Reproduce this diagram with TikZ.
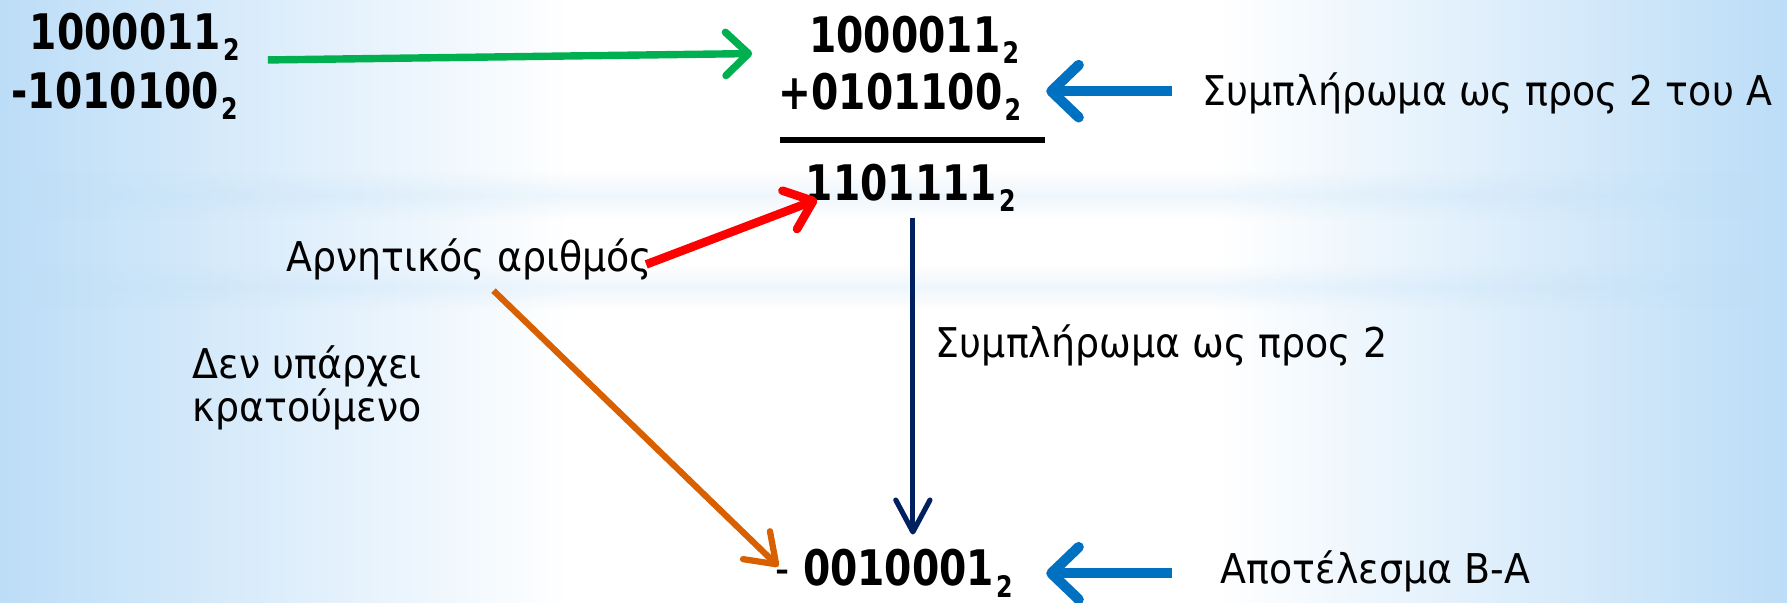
\documentclass[tikz,border=0pt]{standalone}
\usepackage{fontspec}
\setmainfont{DejaVu Sans}[FakeStretch=0.925]
\newfontfamily\numfont{DejaVu Sans}[FakeStretch=0.8]
\usetikzlibrary{arrows.meta,fadings}

\definecolor{edgeblue}{HTML}{BCDDF7}
\definecolor{bandblue}{HTML}{BFDFF7}
\definecolor{mygreen}{HTML}{00B050}
\definecolor{myblue}{HTML}{0070C0}
\definecolor{myred}{HTML}{FF0000}
\definecolor{myorange}{HTML}{D86000}
\definecolor{mynavy}{HTML}{002060}

% slide background: blue at both sides, white in the middle
\pgfdeclarehorizontalshading{slidebg}{100bp}{%
  color(0bp)=(edgeblue); color(25bp)=(edgeblue);
  color(41bp)=(white); color(59bp)=(white);
  color(75bp)=(edgeblue); color(100bp)=(edgeblue)}
\tikzfading[name=bandfade, top color=transparent!100,
  bottom color=transparent!100, middle color=transparent!75]

\newcommand\basetwo{\kern2pt\raisebox{-10pt}{\fontsize{26}{26}\selectfont 2}}

\tikzset{
  num/.style={inner sep=0pt, anchor=base west,
    font=\numfont\bfseries\fontsize{43}{46}\selectfont},
  lbl/.style={inner sep=0pt, anchor=base west,
    font=\fontsize{36}{39}\selectfont},
  greenarrow/.style={draw=mygreen, line width=6.5pt,
    -{Straight Barb[length=20pt, width=38pt, round]}},
  bluearrow/.style={draw=myblue, line width=9pt,
    -{Straight Barb[length=24pt, width=46pt, round]}},
  redarrow/.style={draw=myred, line width=7.5pt,
    -{Straight Barb[length=22pt, width=36pt, round]}},
  orangearrow/.style={draw=myorange, line width=5.5pt,
    -{Straight Barb[length=24pt, width=34pt, round]}},
  navyarrow/.style={draw=mynavy, line width=4.5pt,
    -{Straight Barb[length=28pt, width=30pt, round]}},
}

\begin{document}
\begin{tikzpicture}[x=1pt, y=-1pt]
\useasboundingbox (0,0) rectangle (1568,529);
\shade[shading=slidebg] (0,0) rectangle (1568,529);
\fill[bandblue, path fading=bandfade] (0,150) rectangle (1568,192);
\fill[bandblue, path fading=bandfade] (0,232) rectangle (1568,272);

% subtraction B - A
\node[num] (b1) at (26,43) {1000011\basetwo};
\node[num] (a1) at (10,95) {-1010100\basetwo};

% addition with the complement
\node[num] (b2) at (710,46) {1000011\basetwo};
\node[num] (a2) at (683,96) {+0101100\basetwo};
\draw[line width=5pt] (684,123) coordinate (barl) -- (917,123) coordinate (barr);
\node[num] (sum) at (707,176) {1101111\basetwo};
\node[num] (res) at (680,514) {{\mdseries -} 0010001\basetwo};

% labels
\node[lbl] (compA) at (1055,93) {Συμπλήρωμα ως προς 2 του Α};
\node[lbl] (comp) at (821,314) {Συμπλήρωμα ως προς 2};
\node[lbl] (neg) at (251,238) {Αρνητικός αριθμός};
\node[lbl] (carry1) at (169,332) {Δεν υπάρχει};
\node[lbl] (carry2) at (169,370) {κρατούμενο};
\node[lbl] (out) at (1071,512) {Αποτέλεσμα Β-Α};

% connectors
\coordinate (g0) at (235,52.6);
\coordinate (g1) at (660,47);
\draw[greenarrow] (g0) -- (g1);

\coordinate (c0) at (1028,80);
\coordinate (c1) at (918,80);
\draw[bluearrow] (c0) -- (c1);

\coordinate (r0) at (567,232);
\coordinate (r1) at (717,175);
\draw[redarrow] (r0) -- (r1);

\coordinate (o0) at (433,255);
\coordinate (o1) at (683,497);
\draw[orangearrow] (o0) -- (o1);

\coordinate (n0) at (801,191);
\coordinate (n1) at (801,469);
\draw[navyarrow] (n0) -- (n1);

\coordinate (d0) at (1028,503);
\coordinate (d1) at (918,503);
\draw[bluearrow] (d0) -- (d1);
\end{tikzpicture}
\end{document}
